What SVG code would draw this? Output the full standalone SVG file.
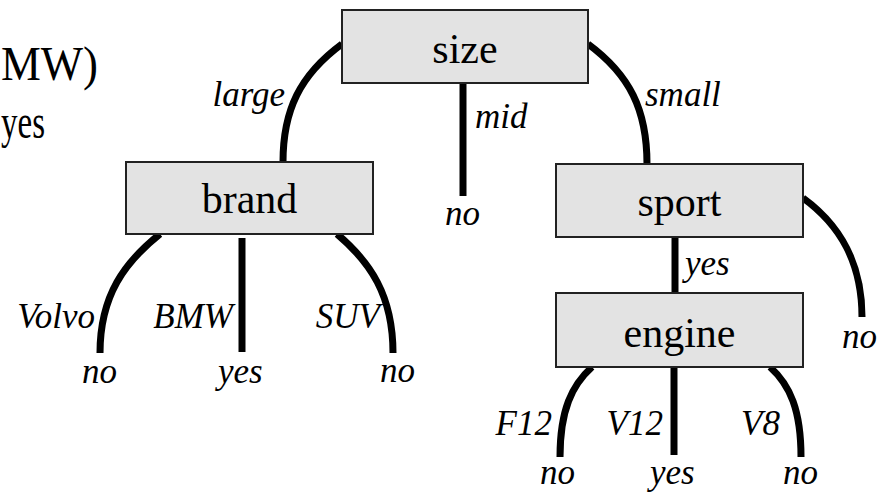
<svg xmlns="http://www.w3.org/2000/svg" width="878" height="493" viewBox="0 0 878 493" font-family="Liberation Serif, Times New Roman, DejaVu Serif, serif">
<style>
.box{fill:#e3e3e3;stroke:#222;stroke-width:2}
.nt{font-size:42px;text-anchor:middle;fill:#000}
.lb{font-size:35px;font-style:italic;fill:#000}
.big{font-size:48px;fill:#000}
.e{fill:none;stroke:#000;stroke-width:7}
</style>
<rect width="878" height="493" fill="#fff"/>
<text class="big" font-family="Liberation Serif, serif" x="1" y="80" textLength="97" lengthAdjust="spacingAndGlyphs">MW)</text>
<text class="big" font-family="Liberation Serif, serif" x="1" y="138" textLength="44" lengthAdjust="spacingAndGlyphs">yes</text>
<g id="connectors">
<path class="e" d="M342 44 C300 75 283 110 283 162"/>
<path class="e" d="M463 83 L463 196"/>
<path class="e" d="M588 44 C630 75 647 110 647 164"/>
<path class="e" d="M160 234 C125 262 100 295 100 353"/>
<path class="e" d="M242 238 L242 352"/>
<path class="e" d="M337 234 C370 262 393 295 393 353"/>
<path class="e" d="M675 237 L675 293"/>
<path class="e" d="M803 198 C840 225 862 262 862 317"/>
<path class="e" d="M592 367 C572 385 560 410 560 457"/>
<path class="e" d="M674 367 L674 455"/>
<path class="e" d="M770 367 C790 385 801 410 801 457"/>
</g>
<g id="edge-labels" font-family="Liberation Serif, serif">
<text class="lb" x="285" y="106" text-anchor="end">large</text>
<text class="lb" x="475" y="128">mid</text>
<text class="lb" x="645" y="106">small</text>
<text class="lb" x="95" y="328" text-anchor="end">Volvo</text>
<text class="lb" x="233" y="328" text-anchor="end">BMW</text>
<text class="lb" x="380" y="328" text-anchor="end">SUV</text>
<text class="lb" x="685" y="275">yes</text>
<text class="lb" x="552" y="435" text-anchor="end">F12</text>
<text class="lb" x="663" y="435" text-anchor="end">V12</text>
<text class="lb" x="780" y="435" text-anchor="end">V8</text>
</g>
<g id="size"><rect class="box" x="342" y="10" width="246" height="73"/><text class="nt" x="465" y="63">size</text></g>
<g id="brand"><rect class="box" x="126" y="162" width="247" height="72"/><text class="nt" x="249.5" y="213">brand</text></g>
<g id="sport"><rect class="box" x="556" y="164" width="247" height="73"/><text class="nt" x="679.5" y="216">sport</text></g>
<g id="engine"><rect class="box" x="556" y="293" width="247" height="74"/><text class="nt" x="679.5" y="347">engine</text></g>
<g id="leaf-mid"><text class="lb" x="445" y="225">no</text></g>
<g id="leaf-volvo"><text class="lb" x="82" y="383">no</text></g>
<g id="leaf-bmw"><text class="lb" x="218" y="383">yes</text></g>
<g id="leaf-suv"><text class="lb" x="380" y="382">no</text></g>
<g id="leaf-sport-no"><text class="lb" x="842" y="348">no</text></g>
<g id="leaf-f12"><text class="lb" x="540" y="484">no</text></g>
<g id="leaf-v12"><text class="lb" x="650" y="484">yes</text></g>
<g id="leaf-v8"><text class="lb" x="783" y="484">no</text></g>
</svg>
